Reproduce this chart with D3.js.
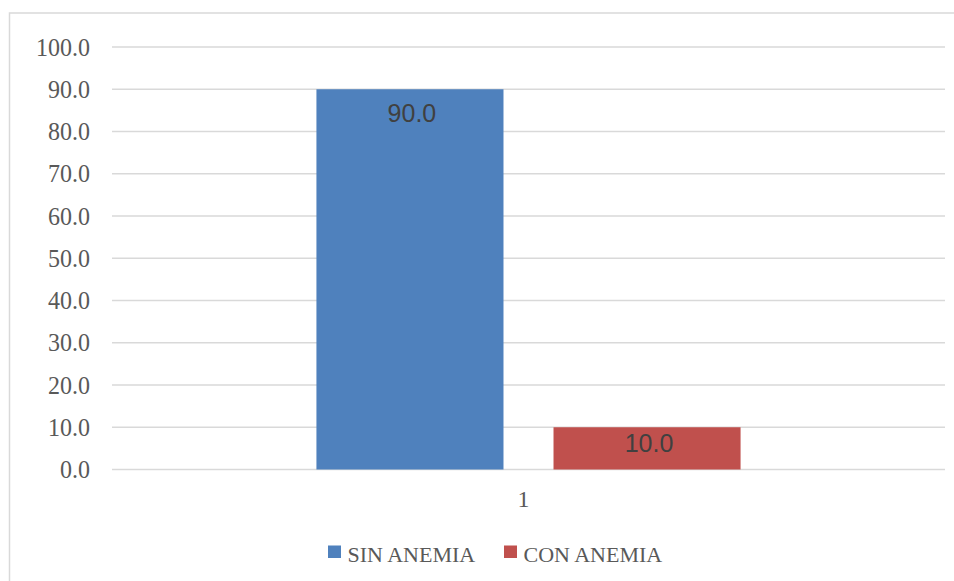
<!DOCTYPE html>
<html>
<head>
<meta charset="utf-8">
<script src="https://cdn.jsdelivr.net/npm/d3@7"></script>
<style>
  html, body { margin: 0; padding: 0; background: #fff; }
  svg { display: block; }
</style>
</head>
<body>
<svg id="chart" width="954" height="581"></svg>
<script>
// Anemia prevalence data
const categories = ["1"];
const seriesNames = ["SIN ANEMIA", "CON ANEMIA"];
const sinAnemia = [90.0];
const conAnemia = [10.0];
const yTicks = [0, 10, 20, 30, 40, 50, 60, 70, 80, 90, 100];
const seriesColors = ["#4f81bd", "#c0504d"];

const seriesValues = [sinAnemia, conAnemia];

const svg = d3.select("#chart");

// chart frame (extends past the right and bottom edges)
svg.append("rect")
  .attr("x", 9.5).attr("y", 13)
  .attr("width", 1000).attr("height", 700)
  .attr("fill", "#fff")
  .attr("stroke", "#d9d9d9")
  .attr("stroke-width", 1.5);

const plot = { left: 112, right: 945, top: 47, bottom: 469.5 };

const y = d3.scaleLinear().domain([0, 100]).range([plot.bottom, plot.top]);

const x0 = d3.scaleBand()
  .domain(categories)
  .range([plot.left, plot.right])
  .paddingInner(0)
  .paddingOuter(0.482);

const x1 = d3.scaleBand()
  .domain(seriesNames)
  .range([0, x0.bandwidth()])
  .paddingInner(0.211)
  .paddingOuter(0);

// gridlines
svg.append("g")
  .selectAll("line")
  .data(yTicks)
  .join("line")
  .attr("x1", plot.left).attr("x2", plot.right)
  .attr("y1", d => y(d)).attr("y2", d => y(d))
  .attr("stroke", "#d9d9d9")
  .attr("stroke-width", 1.6);

// y axis labels
const yAxis = d3.axisLeft(y)
  .tickValues(yTicks)
  .tickFormat(d3.format(".1f"))
  .tickSize(0)
  .tickPadding(22);

const yG = svg.append("g")
  .attr("transform", `translate(${plot.left},0)`)
  .call(yAxis);
yG.select(".domain").remove();
yG.selectAll("text")
  .attr("fill", "#595959")
  .attr("font-family", "'Liberation Serif', 'DejaVu Serif', serif")
  .attr("font-size", 24)
  .attr("transform", "scale(1,1.06)");

// x axis label
const xAxis = d3.axisBottom(x0).tickSize(0).tickPadding(20.5);
const xG = svg.append("g")
  .attr("transform", `translate(0,${plot.bottom})`)
  .call(xAxis);
xG.select(".domain").remove();
xG.selectAll("text")
  .attr("fill", "#595959")
  .attr("font-family", "'Liberation Serif', 'DejaVu Serif', serif")
  .attr("font-size", 24)
  .attr("dx", -5);

// bars
const barData = [];
categories.forEach((c, ci) => {
  seriesNames.forEach((s, si) => {
    barData.push({ cat: c, series: s, value: seriesValues[si][ci], color: seriesColors[si] });
  });
});

const bars = svg.append("g");
bars.selectAll("rect")
  .data(barData)
  .join("rect")
  .attr("x", d => x0(d.cat) + x1(d.series))
  .attr("y", d => y(d.value))
  .attr("width", x1.bandwidth())
  .attr("height", d => y(0) - y(d.value))
  .attr("fill", d => d.color);

// value labels inside the top of each bar
bars.selectAll("text")
  .data(barData)
  .join("text")
  .attr("x", d => x0(d.cat) + x1(d.series) + x1.bandwidth() / 2 + 2)
  .attr("y", d => {
    const h = y(0) - y(d.value);
    return h > 60 ? y(d.value) + 33 : y(d.value) + 25;
  })
  .attr("text-anchor", "middle")
  .attr("fill", "#404040")
  .attr("font-family", "'Liberation Sans', Arial, sans-serif")
  .attr("font-size", 25)
  .text(d => d3.format(".1f")(d.value));

// legend
const legendItems = [
  { name: seriesNames[0], color: seriesColors[0], x: 328 },
  { name: seriesNames[1], color: seriesColors[1], x: 504 }
];
const legend = svg.append("g");
legendItems.forEach(it => {
  legend.append("rect")
    .attr("x", it.x).attr("y", 545.5)
    .attr("width", 13).attr("height", 12.5)
    .attr("fill", it.color);
  legend.append("text")
    .attr("x", it.x + 19.5).attr("y", 562)
    .attr("fill", "#595959")
    .attr("font-family", "'Liberation Serif', 'DejaVu Serif', serif")
    .attr("font-size", 22)
    .text(it.name);
});
</script>
</body>
</html>
